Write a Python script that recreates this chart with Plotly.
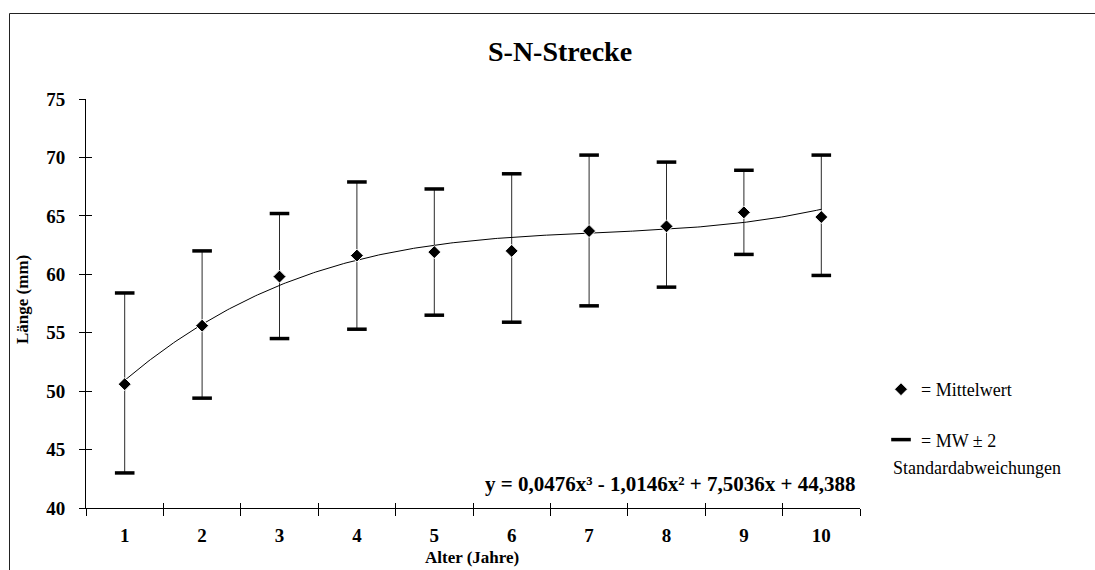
import numpy as np
import plotly.graph_objects as go

# ---------------- data ----------------
alter = [1, 2, 3, 4, 5, 6, 7, 8, 9, 10]
alter_labels = ["1", "2", "3", "4", "5", "6", "7", "8", "9", "10"]
mittelwert = [50.6, 55.6, 59.8, 61.6, 61.9, 62.0, 63.7, 64.1, 65.3, 64.9]
obere_grenze = [58.4, 62.0, 65.2, 67.9, 67.3, 68.6, 70.2, 69.6, 68.9, 70.2]
untere_grenze = [43.0, 49.4, 54.5, 55.3, 56.5, 55.9, 57.3, 58.9, 61.7, 59.9]
trend_koeff = [0.0476, -1.0146, 7.5036, 44.388]   # y = a x^3 + b x^2 + c x + d
y_ticks = [40, 45, 50, 55, 60, 65, 70, 75]
x_boundaries = [0.5, 1.5, 2.5, 3.5, 4.5, 5.5, 6.5, 7.5, 8.5, 9.5, 10.5]

# ---------------- layout geometry (pixels) ----------------
W, H = 1095, 570
L, R = 86, 860      # plot area left / right
T, B = 99, 508      # plot area top / bottom


def px(x):
    return (x - L) / (R - L)


def py(y):
    return (B - y) / (B - T)


FONT = "Liberation Serif, Times New Roman, serif"

err_plus = [u - m for u, m in zip(obere_grenze, mittelwert)]
err_minus = [m - l for m, l in zip(mittelwert, untere_grenze)]

trend_x = np.linspace(alter[0], alter[-1], 300)
trend_y = np.polyval(trend_koeff, trend_x)

fig = go.Figure()

# invisible helper traces so that the tick-only overlay axes are drawn
for xa, ya in (("x2", "y"), ("x3", "y"), ("x", "y2")):
    fig.add_trace(go.Scatter(
        x=alter, y=mittelwert, xaxis=xa, yaxis=ya, mode="markers",
        marker=dict(size=1, color="rgba(0,0,0,0)"),
        showlegend=False, hoverinfo="skip"))

# vertical error lines
fig.add_trace(go.Scatter(
    x=alter, y=mittelwert, mode="markers",
    marker=dict(size=1, color="rgba(0,0,0,0)"),
    error_y=dict(type="data", array=err_plus, arrayminus=err_minus,
                 color="#2a2a2a", thickness=1, width=0),
    showlegend=False, hoverinfo="skip"))

# trend line
fig.add_trace(go.Scatter(
    x=trend_x, y=trend_y, mode="lines",
    line=dict(color="black", width=1),
    showlegend=False, hoverinfo="skip"))

# thick caps (upper & lower) - legend entry "= MW ± 2"
cap_x = alter + alter
cap_y = obere_grenze + untere_grenze
fig.add_trace(go.Scatter(
    x=cap_x, y=cap_y, mode="markers",
    marker=dict(symbol="line-ew", size=14,
                line=dict(color="black", width=3.5)),
    name="= MW \u00b1 2", legendgroup="b", legendrank=2))

# means
fig.add_trace(go.Scatter(
    x=alter, y=mittelwert, mode="markers",
    marker=dict(symbol="diamond", size=10, color="black",
                line=dict(color="white", width=1)),
    name="= Mittelwert", legendgroup="a", legendrank=1))

axis_common = dict(showgrid=False, zeroline=False, fixedrange=True)

fig.update_layout(
    width=W, height=H,
    margin=dict(l=L, r=W - R, t=T, b=H - B, pad=0),
    paper_bgcolor="white", plot_bgcolor="white",
    font=dict(family=FONT, color="black", size=18),
    xaxis=dict(range=[0.5, 10.5], tickvals=alter, ticktext=alter_labels,
               ticks="", showline=True, linecolor="black", linewidth=1,
               tickfont=dict(family=FONT, size=19, weight="bold"),
               ticklabelstandoff=10, **axis_common),
    xaxis2=dict(overlaying="x", anchor="y", side="bottom", range=[0.5, 10.5],
                tickvals=x_boundaries, ticks="outside", ticklen=7,
                tickcolor="black", tickwidth=1, showticklabels=False,
                showline=False, **axis_common),
    xaxis3=dict(overlaying="x", anchor="y", side="bottom", range=[0.5, 10.5],
                tickvals=x_boundaries, ticks="inside", ticklen=5,
                tickcolor="black", tickwidth=1, showticklabels=False,
                showline=False, **axis_common),
    yaxis=dict(range=[40, 75], tickvals=y_ticks, ticks="outside", ticklen=6,
               tickcolor="black", tickwidth=1, showline=True,
               linecolor="black", linewidth=1,
               tickfont=dict(family=FONT, size=19, weight="bold"),
               ticklabelstandoff=10, **axis_common),
    yaxis2=dict(overlaying="y", anchor="x", side="left", range=[40, 75],
                tickvals=y_ticks, ticks="inside", ticklen=6,
                tickcolor="black", tickwidth=1, showticklabels=False,
                showline=False, **axis_common),
    legend=dict(x=px(881), y=py(371), xanchor="left", yanchor="top",
                font=dict(family=FONT, size=18), tracegroupgap=24,
                traceorder="grouped", bgcolor="rgba(0,0,0,0)",
                itemsizing="trace"),
    showlegend=True,
)

annotations = [
    dict(text="S-N-Strecke", x=px(560), y=py(52), xref="paper", yref="paper",
         showarrow=False, xanchor="center", yanchor="middle",
         font=dict(family=FONT, size=28, weight="bold")),
    dict(text="Länge (mm)", x=px(22), y=py(300), xref="paper", yref="paper",
         showarrow=False, textangle=-90, xanchor="center", yanchor="middle",
         font=dict(family=FONT, size=17, weight="bold")),
    dict(text="Alter (Jahre)", x=px(472), y=py(557), xref="paper", yref="paper",
         showarrow=False, xanchor="center", yanchor="middle",
         font=dict(family=FONT, size=17, weight="bold")),
    dict(text="y = 0,0476x\u00b3 - 1,0146x\u00b2 + 7,5036x + 44,388",
         x=px(857), y=py(484), xref="paper", yref="paper",
         showarrow=False, xanchor="right", yanchor="middle",
         font=dict(family=FONT, size=21, weight="bold")),
    dict(text="Standardabweichungen", x=px(891), y=py(468), xref="paper",
         yref="paper", showarrow=False, xanchor="left", yanchor="middle",
         font=dict(family=FONT, size=18)),
]
fig.update_layout(annotations=annotations)

# outer chart-area border: only its left and top edges are inside the picture
fig.add_shape(type="line", xref="paper", yref="paper",
              x0=px(9.5), y0=py(H + 5), x1=px(9.5), y1=py(13.5),
              line=dict(color="#222222", width=1), layer="below")
fig.add_shape(type="line", xref="paper", yref="paper",
              x0=px(9.5), y0=py(13.5), x1=px(W + 5), y1=py(13.5),
              line=dict(color="#222222", width=1), layer="below")

fig.write_html("out.html")
